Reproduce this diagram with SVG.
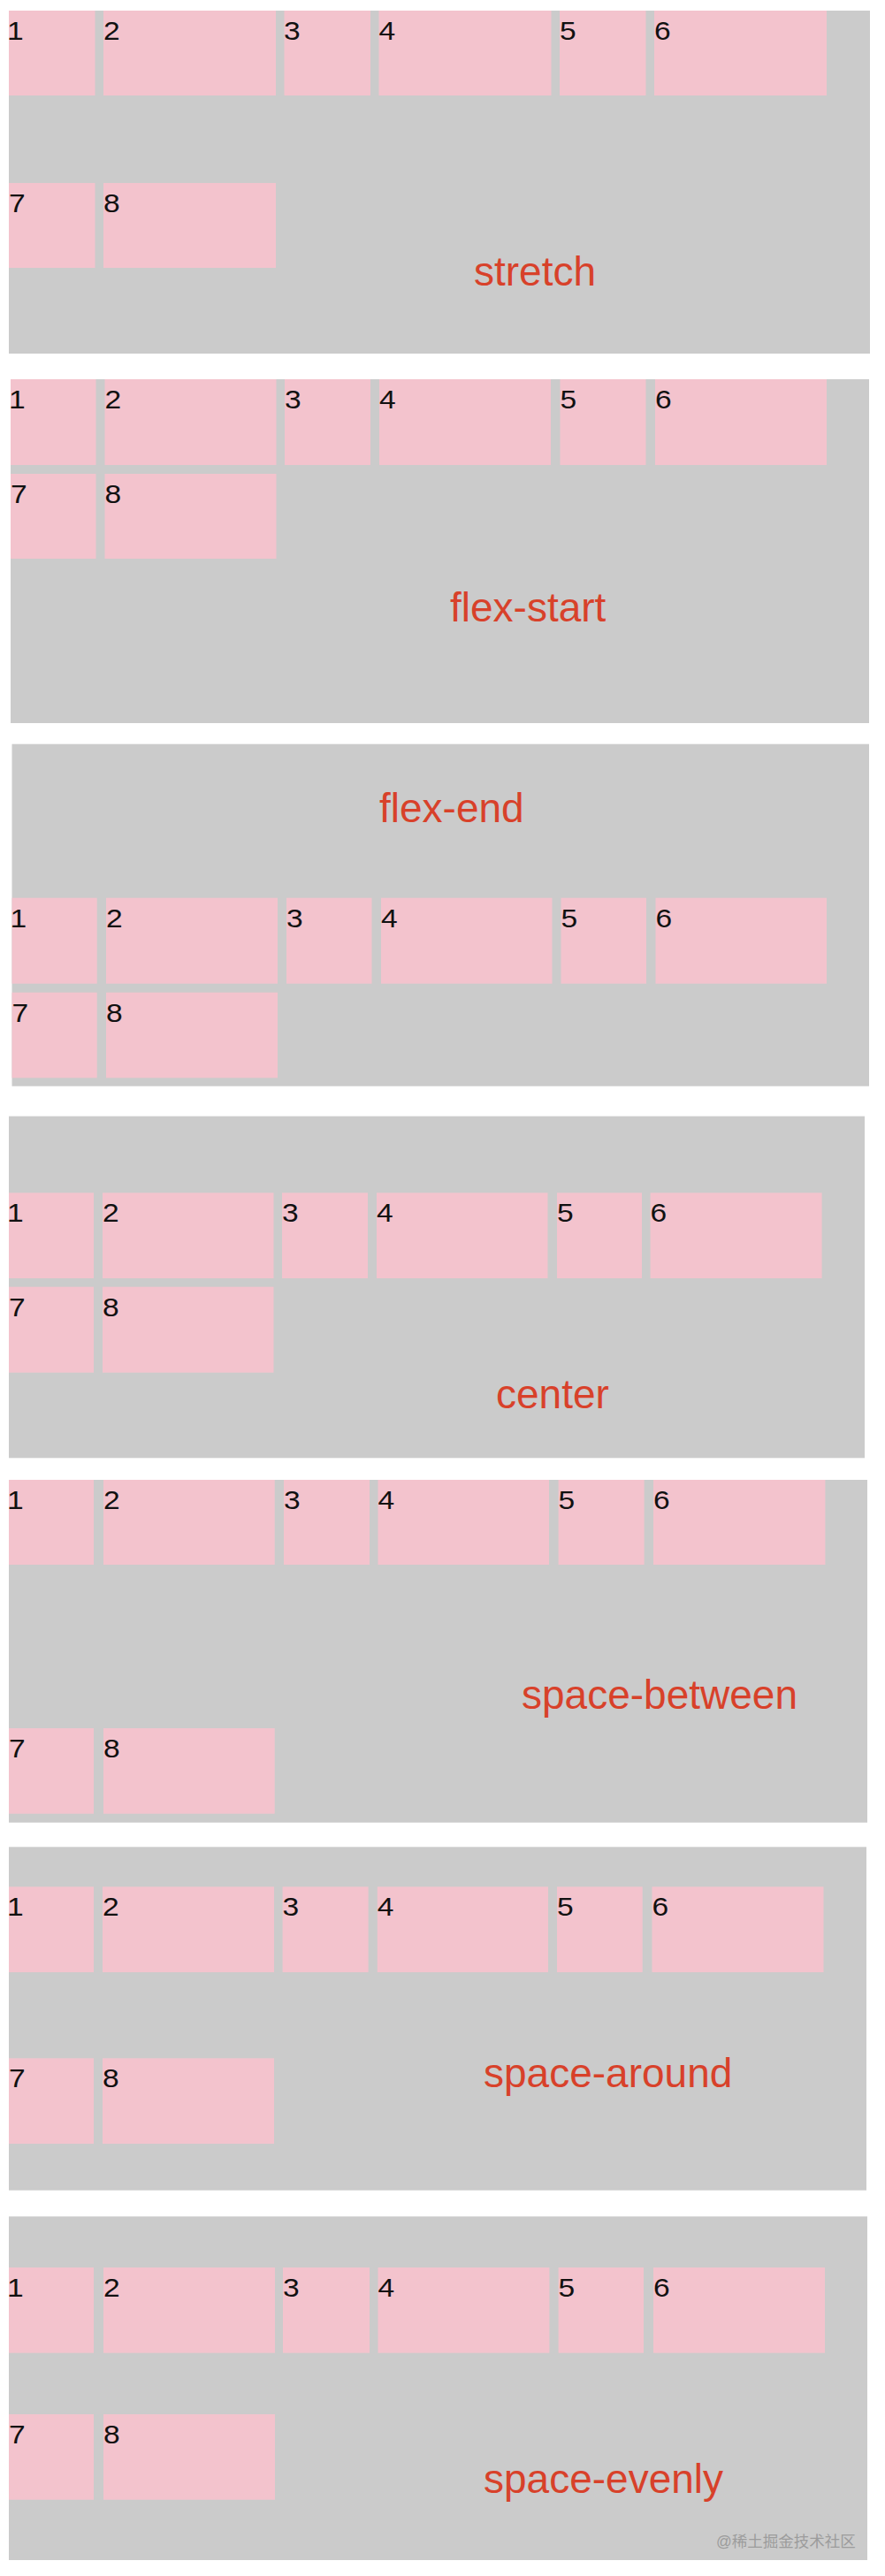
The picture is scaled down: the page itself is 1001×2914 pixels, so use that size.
<svg xmlns="http://www.w3.org/2000/svg" width="1001" height="2914" viewBox="0 0 1001 2914">
<style>
.bg{fill:#ffffff}
.panel{fill:#cbcbcb}
.box{fill:#f3c3cd}
.num{font-family:"Liberation Sans",Arial,sans-serif;font-size:30px;fill:#111111}
.lbl{font-family:"Liberation Sans",Arial,sans-serif;font-size:46px;fill:#d8412a}
.wm{font-family:"Liberation Sans","Noto Sans CJK SC",sans-serif;font-size:17.5px;fill:#9c9c9c}
</style>
<rect class="bg" x="0" y="0" width="1001" height="2914"/>

<g id="panel-stretch">
<rect class="panel" x="10" y="12" width="974" height="388"/>
<g id="p1-b1"><rect class="box" x="10" y="12" width="97.5" height="96"/><text class="num" transform="translate(8,45) scale(1.12,1)">1</text></g>
<g id="p1-b2"><rect class="box" x="117" y="12" width="195" height="96"/><text class="num" transform="translate(117,45) scale(1.12,1)">2</text></g>
<g id="p1-b3"><rect class="box" x="321.5" y="12" width="97.5" height="96"/><text class="num" transform="translate(321,45) scale(1.12,1)">3</text></g>
<g id="p1-b4"><rect class="box" x="428.5" y="12" width="195" height="96"/><text class="num" transform="translate(428.5,45) scale(1.12,1)">4</text></g>
<g id="p1-b5"><rect class="box" x="633" y="12" width="97.5" height="96"/><text class="num" transform="translate(633,45) scale(1.12,1)">5</text></g>
<g id="p1-b6"><rect class="box" x="740" y="12" width="195" height="96"/><text class="num" transform="translate(740,45) scale(1.12,1)">6</text></g>
<g id="p1-b7"><rect class="box" x="10" y="207" width="97.5" height="96"/><text class="num" transform="translate(10,240) scale(1.12,1)">7</text></g>
<g id="p1-b8"><rect class="box" x="117" y="207" width="195" height="96"/><text class="num" transform="translate(117,240) scale(1.12,1)">8</text></g>
<text class="lbl" x="536" y="323">stretch</text>
</g>

<g id="panel-flex-start">
<rect class="panel" x="12" y="429" width="971" height="389"/>
<g id="p2-b1"><rect class="box" x="12" y="429" width="96.5" height="97"/><text class="num" transform="translate(10,462) scale(1.12,1)">1</text></g>
<g id="p2-b2"><rect class="box" x="118.5" y="429" width="194" height="97"/><text class="num" transform="translate(118.5,462) scale(1.12,1)">2</text></g>
<g id="p2-b3"><rect class="box" x="322" y="429" width="97" height="97"/><text class="num" transform="translate(322,462) scale(1.12,1)">3</text></g>
<g id="p2-b4"><rect class="box" x="429" y="429" width="194" height="97"/><text class="num" transform="translate(429,462) scale(1.12,1)">4</text></g>
<g id="p2-b5"><rect class="box" x="633.5" y="429" width="97" height="97"/><text class="num" transform="translate(633.5,462) scale(1.12,1)">5</text></g>
<g id="p2-b6"><rect class="box" x="741" y="429" width="194" height="97"/><text class="num" transform="translate(741,462) scale(1.12,1)">6</text></g>
<g id="p2-b7"><rect class="box" x="12" y="536" width="96.5" height="96"/><text class="num" transform="translate(12,569) scale(1.12,1)">7</text></g>
<g id="p2-b8"><rect class="box" x="118.5" y="536" width="194" height="96"/><text class="num" transform="translate(118.5,569) scale(1.12,1)">8</text></g>
<text class="lbl" x="509" y="703">flex-start</text>
</g>

<g id="panel-flex-end">
<rect class="panel" x="13.5" y="841.7" width="969.5" height="387"/>
<g id="p3-b1"><rect class="box" x="13.5" y="1015.7" width="96.2" height="97"/><text class="num" transform="translate(11.5,1048.5) scale(1.12,1)">1</text></g>
<g id="p3-b2"><rect class="box" x="120" y="1015.7" width="194" height="97"/><text class="num" transform="translate(120,1048.5) scale(1.12,1)">2</text></g>
<g id="p3-b3"><rect class="box" x="324" y="1015.7" width="96.5" height="97"/><text class="num" transform="translate(324,1048.5) scale(1.12,1)">3</text></g>
<g id="p3-b4"><rect class="box" x="431" y="1015.7" width="193.5" height="97"/><text class="num" transform="translate(431,1048.5) scale(1.12,1)">4</text></g>
<g id="p3-b5"><rect class="box" x="634.5" y="1015.7" width="96.5" height="97"/><text class="num" transform="translate(634.5,1048.5) scale(1.12,1)">5</text></g>
<g id="p3-b6"><rect class="box" x="741.5" y="1015.7" width="193.5" height="97"/><text class="num" transform="translate(741.5,1048.5) scale(1.12,1)">6</text></g>
<g id="p3-b7"><rect class="box" x="13.5" y="1122.7" width="96.2" height="96.6"/><text class="num" transform="translate(13.5,1155.5) scale(1.12,1)">7</text></g>
<g id="p3-b8"><rect class="box" x="120" y="1122.7" width="194" height="96.6"/><text class="num" transform="translate(120,1155.5) scale(1.12,1)">8</text></g>
<text class="lbl" x="429" y="930">flex-end</text>
</g>

<g id="panel-center">
<rect class="panel" x="10" y="1262.7" width="968" height="386.6"/>
<g id="p4-b1"><rect class="box" x="10" y="1349.3" width="96" height="96.7"/><text class="num" transform="translate(8,1382.3) scale(1.12,1)">1</text></g>
<g id="p4-b2"><rect class="box" x="116" y="1349.3" width="193.5" height="96.7"/><text class="num" transform="translate(116,1382.3) scale(1.12,1)">2</text></g>
<g id="p4-b3"><rect class="box" x="319" y="1349.3" width="97" height="96.7"/><text class="num" transform="translate(319,1382.3) scale(1.12,1)">3</text></g>
<g id="p4-b4"><rect class="box" x="426" y="1349.3" width="193.5" height="96.7"/><text class="num" transform="translate(426,1382.3) scale(1.12,1)">4</text></g>
<g id="p4-b5"><rect class="box" x="630" y="1349.3" width="96" height="96.7"/><text class="num" transform="translate(630,1382.3) scale(1.12,1)">5</text></g>
<g id="p4-b6"><rect class="box" x="735.6" y="1349.3" width="194" height="96.7"/><text class="num" transform="translate(735.6,1382.3) scale(1.12,1)">6</text></g>
<g id="p4-b7"><rect class="box" x="10" y="1455.7" width="96" height="97"/><text class="num" transform="translate(10,1488.7) scale(1.12,1)">7</text></g>
<g id="p4-b8"><rect class="box" x="116" y="1455.7" width="193.5" height="97"/><text class="num" transform="translate(116,1488.7) scale(1.12,1)">8</text></g>
<text class="lbl" x="561" y="1592.7">center</text>
</g>

<g id="panel-space-between">
<rect class="panel" x="10" y="1674" width="971" height="387.7"/>
<g id="p5-b1"><rect class="box" x="10" y="1674" width="96" height="96"/><text class="num" transform="translate(8,1707) scale(1.12,1)">1</text></g>
<g id="p5-b2"><rect class="box" x="117" y="1674" width="193.7" height="96"/><text class="num" transform="translate(117,1707) scale(1.12,1)">2</text></g>
<g id="p5-b3"><rect class="box" x="321" y="1674" width="97" height="96"/><text class="num" transform="translate(321,1707) scale(1.12,1)">3</text></g>
<g id="p5-b4"><rect class="box" x="427.5" y="1674" width="193.5" height="96"/><text class="num" transform="translate(427.5,1707) scale(1.12,1)">4</text></g>
<g id="p5-b5"><rect class="box" x="631.6" y="1674" width="97" height="96"/><text class="num" transform="translate(631.6,1707) scale(1.12,1)">5</text></g>
<g id="p5-b6"><rect class="box" x="739" y="1674" width="194.4" height="96"/><text class="num" transform="translate(739,1707) scale(1.12,1)">6</text></g>
<g id="p5-b7"><rect class="box" x="10" y="1955" width="96" height="96.7"/><text class="num" transform="translate(10,1988) scale(1.12,1)">7</text></g>
<g id="p5-b8"><rect class="box" x="117" y="1955" width="193.7" height="96.7"/><text class="num" transform="translate(117,1988) scale(1.12,1)">8</text></g>
<text class="lbl" x="590" y="1933">space-between</text>
</g>

<g id="panel-space-around">
<rect class="panel" x="10" y="2089.3" width="970" height="388.4"/>
<g id="p6-b1"><rect class="box" x="10" y="2134.3" width="96" height="96.7"/><text class="num" transform="translate(8,2167.3) scale(1.12,1)">1</text></g>
<g id="p6-b2"><rect class="box" x="116" y="2134.3" width="194" height="96.7"/><text class="num" transform="translate(116,2167.3) scale(1.12,1)">2</text></g>
<g id="p6-b3"><rect class="box" x="319.6" y="2134.3" width="97" height="96.7"/><text class="num" transform="translate(319.6,2167.3) scale(1.12,1)">3</text></g>
<g id="p6-b4"><rect class="box" x="426.8" y="2134.3" width="193.2" height="96.7"/><text class="num" transform="translate(426.8,2167.3) scale(1.12,1)">4</text></g>
<g id="p6-b5"><rect class="box" x="630" y="2134.3" width="96.7" height="96.7"/><text class="num" transform="translate(630,2167.3) scale(1.12,1)">5</text></g>
<g id="p6-b6"><rect class="box" x="737.5" y="2134.3" width="194" height="96.7"/><text class="num" transform="translate(737.5,2167.3) scale(1.12,1)">6</text></g>
<g id="p6-b7"><rect class="box" x="10" y="2328.3" width="96" height="96.7"/><text class="num" transform="translate(10,2361.3) scale(1.12,1)">7</text></g>
<g id="p6-b8"><rect class="box" x="116" y="2328.3" width="194" height="96.7"/><text class="num" transform="translate(116,2361.3) scale(1.12,1)">8</text></g>
<text class="lbl" x="547" y="2361">space-around</text>
</g>

<g id="panel-space-evenly">
<rect class="panel" x="10" y="2507.3" width="971" height="388.7"/>
<g id="p7-b1"><rect class="box" x="10" y="2565" width="96" height="96.7"/><text class="num" transform="translate(8,2598) scale(1.12,1)">1</text></g>
<g id="p7-b2"><rect class="box" x="117" y="2565" width="194" height="96.7"/><text class="num" transform="translate(117,2598) scale(1.12,1)">2</text></g>
<g id="p7-b3"><rect class="box" x="320" y="2565" width="98" height="96.7"/><text class="num" transform="translate(320,2598) scale(1.12,1)">3</text></g>
<g id="p7-b4"><rect class="box" x="427.5" y="2565" width="193.9" height="96.7"/><text class="num" transform="translate(427.5,2598) scale(1.12,1)">4</text></g>
<g id="p7-b5"><rect class="box" x="631.6" y="2565" width="96.4" height="96.7"/><text class="num" transform="translate(631.6,2598) scale(1.12,1)">5</text></g>
<g id="p7-b6"><rect class="box" x="739" y="2565" width="194" height="96.7"/><text class="num" transform="translate(739,2598) scale(1.12,1)">6</text></g>
<g id="p7-b7"><rect class="box" x="10" y="2731" width="96" height="96.7"/><text class="num" transform="translate(10,2764) scale(1.12,1)">7</text></g>
<g id="p7-b8"><rect class="box" x="117" y="2731" width="194" height="96.7"/><text class="num" transform="translate(117,2764) scale(1.12,1)">8</text></g>
<text class="lbl" x="547" y="2820">space-evenly</text>
<text class="wm" x="810" y="2881">@稀土掘金技术社区</text>
</g>
</svg>
